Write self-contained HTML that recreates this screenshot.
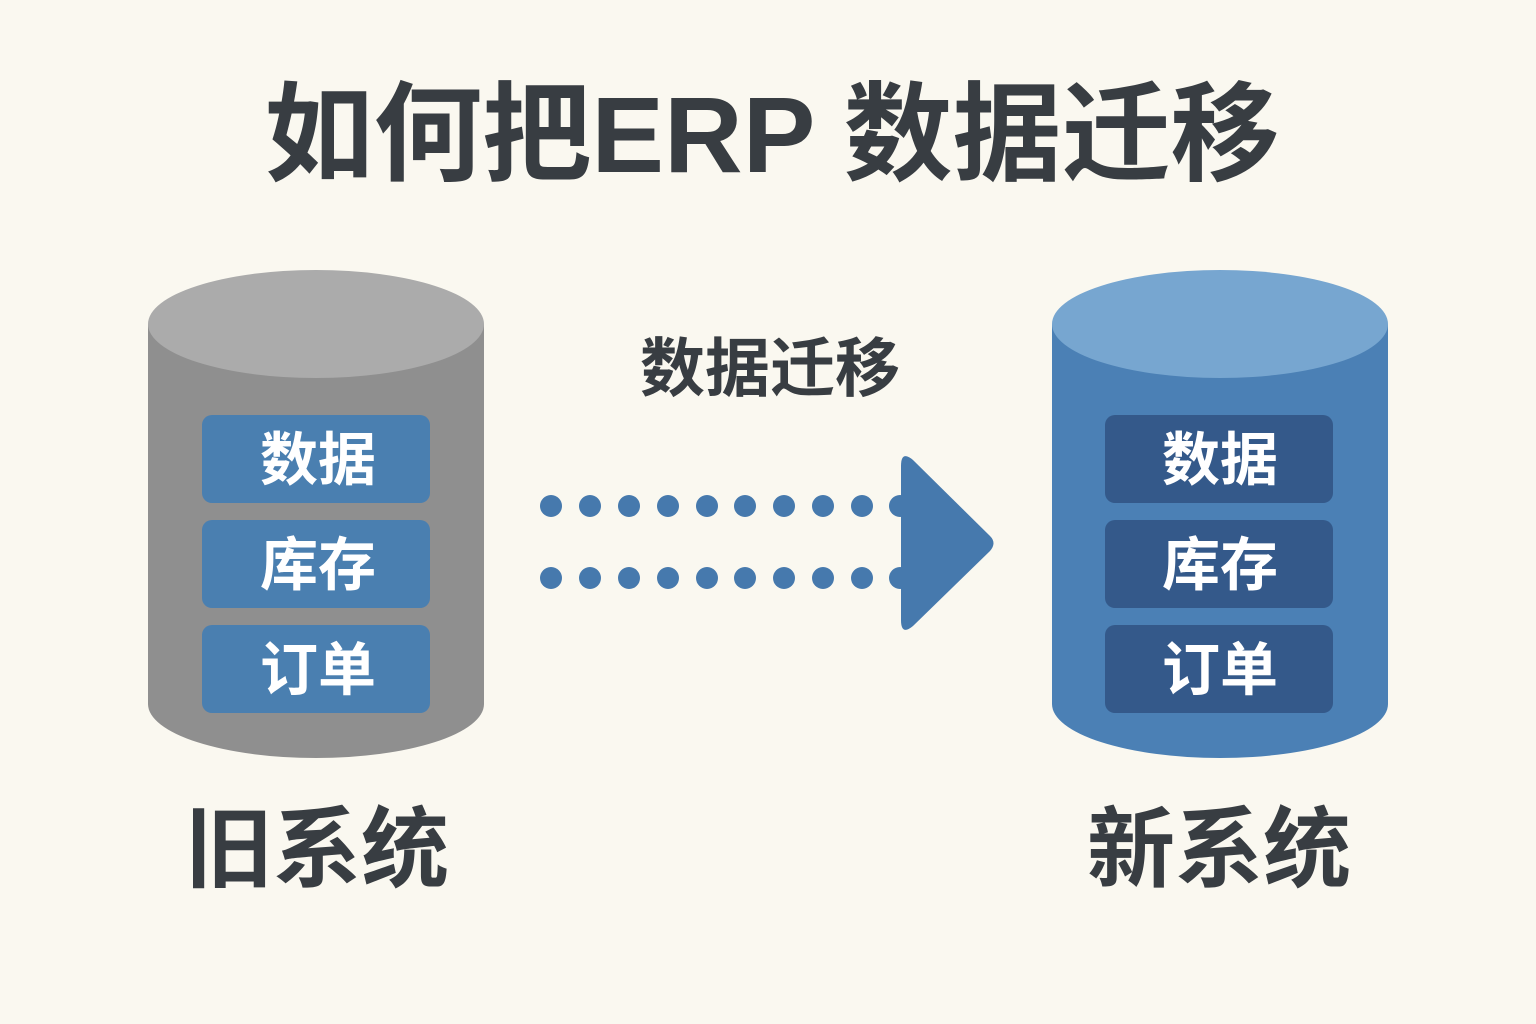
<!DOCTYPE html>
<html><head><meta charset="utf-8"><style>
html,body{margin:0;padding:0;background:#faf8f0;}
svg{display:block}
text{font-family:"Liberation Sans","Noto Sans CJK SC",sans-serif;font-weight:bold;}
</style></head><body>
<svg width="1536" height="1024" viewBox="0 0 1536 1024" xmlns="http://www.w3.org/2000/svg">
<rect width="1536" height="1024" fill="#faf8f0"/>
<text x="772" y="172" font-size="108" fill="#383d42" text-anchor="middle" textLength="1015" lengthAdjust="spacingAndGlyphs">如何把ERP 数据迁移</text>

<path d="M148 324 L148 704 A168 54 0 0 0 484 704 L484 324 Z" fill="#8f8f8f"/>
<ellipse cx="316" cy="324" rx="168" ry="54" fill="#ababab"/>
<g fill="#4a7fb0">
<rect x="202" y="415" width="228" height="88" rx="10"/>
<rect x="202" y="520" width="228" height="88" rx="10"/>
<rect x="202" y="625" width="228" height="88" rx="10"/>
</g>
<g fill="#fff" font-size="58" text-anchor="middle">
<text x="318" y="480">数据</text>
<text x="318" y="585">库存</text>
<text x="318" y="690">订单</text>
</g>

<path d="M1052 324 L1052 704 A168 54 0 0 0 1388 704 L1388 324 Z" fill="#4b80b5"/>
<ellipse cx="1220" cy="324" rx="168" ry="54" fill="#77a6d0"/>
<g fill="#34598a">
<rect x="1105" y="415" width="228" height="88" rx="10"/>
<rect x="1105" y="520" width="228" height="88" rx="10"/>
<rect x="1105" y="625" width="228" height="88" rx="10"/>
</g>
<g fill="#fff" font-size="58" text-anchor="middle">
<text x="1220" y="480">数据</text>
<text x="1220" y="585">库存</text>
<text x="1220" y="690">订单</text>
</g>

<text x="770" y="391" font-size="64" fill="#383d42" text-anchor="middle" textLength="260" lengthAdjust="spacingAndGlyphs">数据迁移</text>
<g fill="#4679ad">
<circle cx="551" cy="506" r="11"/><circle cx="590" cy="506" r="11"/><circle cx="629" cy="506" r="11"/><circle cx="668" cy="506" r="11"/><circle cx="707" cy="506" r="11"/><circle cx="745" cy="506" r="11"/><circle cx="784" cy="506" r="11"/><circle cx="823" cy="506" r="11"/><circle cx="862" cy="506" r="11"/><circle cx="900" cy="506" r="11"/>
<circle cx="551" cy="578" r="11"/><circle cx="590" cy="578" r="11"/><circle cx="629" cy="578" r="11"/><circle cx="668" cy="578" r="11"/><circle cx="707" cy="578" r="11"/><circle cx="745" cy="578" r="11"/><circle cx="784" cy="578" r="11"/><circle cx="823" cy="578" r="11"/><circle cx="862" cy="578" r="11"/><circle cx="900" cy="578" r="11"/>
<path d="M901 466 Q901 450 913 460 L990 536 Q997 543 990 551 L913 626 Q901 636 901 620 Z"/>
</g>

<text x="317" y="880" font-size="88" fill="#383d42" text-anchor="middle">旧系统</text>
<text x="1219" y="880" font-size="88" fill="#383d42" text-anchor="middle">新系统</text>
</svg>
</body></html>
